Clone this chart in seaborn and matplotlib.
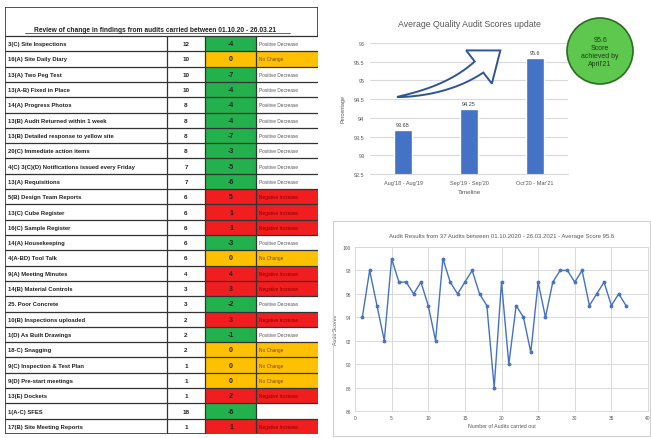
import numpy as np
import pandas as pd
import seaborn as sns
import matplotlib.pyplot as plt
from matplotlib.patches import Rectangle, Ellipse, Polygon

# table data
items = ["3(C) Site Inspections", "16(A) Site Daily Diary", "13(A) Two Peg Test",
         "13(A-B) Fixed in Place", "14(A) Progress Photos", "13(B) Audit Returned within 1 week",
         "13(B) Detailed response to yellow site", "20(C) Immediate action items",
         "4(C) 3(C)(D) Notifications issued every Friday", "13(A) Requisitions",
         "5(B) Design Team Reports", "13(C) Cube Register", "16(C) Sample Register",
         "14(A) Housekeeping", "4(A-BD) Tool Talk", "9(A) Meeting Minutes",
         "14(B) Material Controls", "25. Poor Concrete", "10(B) Inspections uploaded",
         "1(D) As Built Drawings", "18-C) Snagging", "9(C) Inspection & Test Plan",
         "9(D) Pre-start meetings", "13(E) Dockets", "1(A-C) SFES", "17(B) Site Meeting Reports"]
counts = [12, 10, 10, 10, 8, 8, 8, 8, 7, 7, 6, 6, 6, 6, 6, 4, 3, 3, 2, 2, 2, 1, 1, 1, 18, 1]
changes = [-4, 0, -7, -4, -4, -4, -7, -3, -5, -6, 5, 1, 1, -3, 0, 4, 3, -2, 3, -1, 0, 0, 0, 2, -6, 1]
status = ["Positive Decrease", "No Change", "Positive Decrease", "Positive Decrease",
          "Positive Decrease", "Positive Decrease", "Positive Decrease", "Positive Decrease",
          "Positive Decrease", "Positive Decrease", "Negative Increase", "Negative Increase",
          "Negative Increase", "Positive Decrease", "No Change", "Negative Increase",
          "Negative Increase", "Positive Decrease", "Negative Increase", "Positive Decrease",
          "No Change", "No Change", "No Change", "Negative Increase", "", "Negative Increase"]

# bar chart data
periods = ["Aug'18 - Aug'19", "Sep'19 - Sep'20", "Oct'20 - Mar'21"]
avg_scores = [93.68, 94.25, 95.6]
score_labels = ["93.68", "94.25", "95.6"]

# line chart data
audit_no = list(range(1, 38))
audit_scores = [94, 98, 95, 92, 99, 97, 97, 96, 97, 95,
                92, 99, 97, 96, 97, 98, 96, 95, 88, 97,
                90, 95, 94, 91, 97, 94, 97, 98, 98, 97,
                98, 95, 96, 97, 95, 96, 95]

sns.set_style("white")
plt.rcParams['font.family'] = ['Liberation Sans', 'DejaVu Sans']

W, H = 651, 439
fig = plt.figure(figsize=(W / 100, H / 100), dpi=100)


def fig_axes(x0, y0, x1, y1):
    return fig.add_axes([x0 / W, 1 - y1 / H, (x1 - x0) / W, (y1 - y0) / H])


GREEN = "#22B14C"
RED = "#F01E1E"
AMBER = "#FFC000"

# ---- table ----
tax = fig_axes(5, 8, 318, 435)
tax.set_xlim(0, 313)
tax.set_ylim(427, 0)
tax.axis("off")
head_h = 29
row_h = (427 - head_h) / len(items)
cols = [0, 162, 200, 251, 313]
tax.add_patch(Rectangle((0, 0), 313, 427, fill=False, ec="#333333", lw=1.2))
tax.text(150, 22, "Review of change in findings from audits carried between 01.10.20 - 26.03.21",
         ha="center", va="center", fontsize=4.8, fontweight="bold", color="#222222")
tax.plot([20, 285], [25.5, 25.5], color="#222222", lw=0.5)
for i, (name, cnt, ch, st) in enumerate(zip(items, counts, changes, status)):
    y = head_h + i * row_h
    cy = y + row_h / 2
    if ch < 0:
        c_col, s_col, s_txt = GREEN, "white", "#555555"
    elif ch == 0:
        c_col, s_col, s_txt = AMBER, AMBER, "#7a4a00"
    else:
        c_col, s_col, s_txt = RED, RED, "#8b0000"
    if st == "":
        s_col = "white"
    tax.add_patch(Rectangle((cols[2], y), cols[3] - cols[2], row_h, fc=c_col, ec="none"))
    tax.add_patch(Rectangle((cols[3], y), cols[4] - cols[3], row_h, fc=s_col, ec="none"))
    tax.text(3, cy, name, ha="left", va="center", fontsize=4.2, fontweight="bold", color="#222222")
    tax.text(181, cy, str(cnt), ha="center", va="center", fontsize=4.5, fontweight="bold", color="#222222")
    tax.text(226, cy, str(ch), ha="center", va="center", fontsize=5, fontweight="bold", color="#222222")
    tax.text(254, cy, st, ha="left", va="center", fontsize=3.4, color=s_txt)
    tax.plot([0, 313], [y, y], color="#333333", lw=0.9)
for cx in cols[1:4]:
    tax.plot([cx, cx], [head_h, 427], color="#333333", lw=0.9)

# ---- bar chart ----
bax = fig_axes(370, 44, 568, 175)
sns.barplot(x=periods, y=avg_scores, color="#4472C4", width=0.28, saturation=1, ax=bax)
bax.set_ylim(92.5, 96)
bax.set_yticks(np.arange(92.5, 96.01, 0.5))
bax.set_yticklabels([f"{v:g}" for v in np.arange(92.5, 96.01, 0.5)])
bax.yaxis.grid(True, color="#D9D9D9", lw=0.8)
bax.set_axisbelow(True)
sns.despine(ax=bax, left=True, bottom=False)
bax.spines["bottom"].set_color("#D9D9D9")
bax.tick_params(axis="both", length=0, labelsize=4, colors="#595959", pad=4)
for i, (v, lab) in enumerate(zip(avg_scores, score_labels)):
    bax.text(i, v + 0.08, lab, ha="center", va="bottom", fontsize=4, color="#404040")
bax.set_xlabel("Timeline", fontsize=4.5, color="#595959", labelpad=3)
bax.set_ylabel("Percentage", fontsize=4, color="#595959", labelpad=6)
bax.set_title("Average Quality Audit Scores update", fontsize=6.3, color="#595959", pad=12)

# hollow curved arrow (pixel coords, y down): pointed tail widening to a big head
p0, pc, p1 = np.array([397, 98.]), np.array([448, 92.]), np.array([479, 68.])
t = np.linspace(0, 1, 40)[:, None]
curve = (1 - t) ** 2 * p0 + 2 * (1 - t) * t * pc + t ** 2 * p1
tang = 2 * (1 - t) * (pc - p0) + 2 * t * (p1 - pc)
tang /= np.linalg.norm(tang, axis=1, keepdims=True)
norm = np.column_stack([tang[:, 1], -tang[:, 0]])
half = 7 * t ** 0.8
upper = curve + norm * half
lower = curve - norm * half
d, n = tang[-1], norm[-1]
tip = p1 + d * 27
wing_u = p1 + n * 21
wing_l = p1 - n * 21
pts = np.vstack([upper, wing_u, tip, wing_l, lower[::-1]])
pts = np.column_stack([pts[:, 0] / W, 1 - pts[:, 1] / H])
fig.add_artist(Polygon(pts, closed=True, transform=fig.transFigure,
                       fc="white", ec="#2F5597", lw=1.4, joinstyle="miter"))

# green badge
fig.add_artist(Ellipse((600 / W, 1 - 52 / H), 66 / W, 66 / H, transform=fig.transFigure,
                       fc="#5EC84E", ec="#2E6B22", lw=1.2))
fig.text(600 / W, 1 - 52 / H, "95.6\nScore\nachieved by\nApril'21", ha="center", va="center",
         fontsize=5, color="#1E3A14", linespacing=1.2)

# ---- line chart ----
fig.add_artist(Rectangle((333 / W, 1 - 437 / H), 317 / W, 215 / H, transform=fig.transFigure,
                         fill=False, ec="#CFCFCF", lw=0.8))
lax = fig_axes(355, 248, 648, 412)
df = pd.DataFrame({"audit": audit_no, "score": audit_scores})
sns.lineplot(data=df, x="audit", y="score", color="#4472C4", lw=1, marker="o",
             markersize=2, markeredgecolor="#4472C4", ax=lax)
lax.set_xlim(0, 40)
lax.set_ylim(86, 100)
lax.set_xticks(range(0, 41, 5))
lax.set_yticks(range(86, 101, 2))
lax.grid(True, color="#D9D9D9", lw=0.7)
for s in lax.spines.values():
    s.set_color("#D9D9D9")
    s.set_linewidth(0.7)
lax.tick_params(axis="both", length=0, labelsize=3.5, colors="#595959", pad=3)
lax.set_xlabel("Number of Audits carried out", fontsize=3.8, color="#595959", labelpad=2)
lax.set_ylabel("Audit Scores", fontsize=3.8, color="#595959", labelpad=3)
lax.set_title("Audit Results from 37 Audits between 01.10.2020 - 26.03.2021 - Average Score 95.6",
              fontsize=4.3, color="#595959", pad=7)

fig.savefig("out.png", dpi=100)
